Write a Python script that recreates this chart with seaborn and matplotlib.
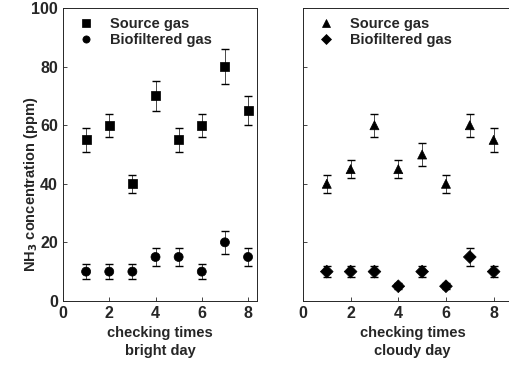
import matplotlib
matplotlib.use("Agg")
import matplotlib.pyplot as plt
import seaborn as sns
import pandas as pd

# checking times
times = [1, 2, 3, 4, 5, 6, 7, 8]

# bright day
bright_source = [55, 60, 40, 70, 55, 60, 80, 65]
bright_source_err = [4, 4, 3, 5, 4, 4, 6, 5]
bright_bio = [10, 10, 10, 15, 15, 10, 20, 15]
bright_bio_err = [2.5, 2.5, 2.5, 3, 3, 2.5, 4, 3]

# cloudy day
cloudy_source = [40, 45, 60, 45, 50, 40, 60, 55]
cloudy_source_err = [3, 3, 4, 3, 4, 3, 4, 4]
cloudy_bio = [10, 10, 10, 5, 10, 5, 15, 10]
cloudy_bio_err = [2, 2, 2, 1, 2, 1, 3, 2]

sns.set_style("ticks")
plt.rcParams['font.family'] = ['Liberation Sans', 'DejaVu Sans']
plt.rcParams['font.weight'] = 'bold'
plt.rcParams['axes.labelweight'] = 'bold'
plt.rcParams['mathtext.default'] = 'bf'

fig = plt.figure(figsize=(5.1, 3.71), dpi=100)
ax1 = fig.add_axes([0.1235, 0.189, 0.381, 0.789])
ax2 = fig.add_axes([0.594, 0.189, 0.43, 0.789])


def draw_panel(ax, src, src_err, bio, bio_err, m_src, m_bio, xlabel):
    df = pd.DataFrame({'t': times * 2,
                       'v': src + bio,
                       'g': ['Source gas'] * 8 + ['Biofiltered gas'] * 8})
    ax.errorbar(times, src, yerr=src_err, fmt='none', ecolor='black',
                elinewidth=0.5, capsize=3, capthick=1, linestyle=':')
    ax.errorbar(times, bio, yerr=bio_err, fmt='none', ecolor='black',
                elinewidth=0.5, capsize=3, capthick=1, linestyle=':')
    sns.scatterplot(data=df, x='t', y='v', hue='g', style='g',
                    markers={'Source gas': m_src, 'Biofiltered gas': m_bio},
                    palette={'Source gas': 'black', 'Biofiltered gas': 'black'},
                    s=42, edgecolor='black', ax=ax, zorder=3)
    ax.set_ylim(0, 100)
    ax.set_xticks([0, 2, 4, 6, 8])
    ax.set_yticks([0, 20, 40, 60, 80, 100])
    ax.tick_params(direction='in', length=3, width=0.6, labelsize=11.5)
    for lab in ax.get_xticklabels() + ax.get_yticklabels():
        lab.set_fontweight('bold')
    for sp in ax.spines.values():
        sp.set_visible(True)
        sp.set_linewidth(0.7)
        sp.set_linestyle((0, (4, 1)))
    ax.set_xlabel(xlabel, fontsize=10.5, fontweight='bold', linespacing=1.3)
    ax.set_ylabel('')
    leg = ax.legend(loc='upper left', frameon=False, fontsize=10.5,
                    handletextpad=0.6, borderaxespad=0.2, labelspacing=0.15,
                    markerscale=0.8)
    for t in leg.get_texts():
        t.set_fontweight('bold')


draw_panel(ax1, bright_source, bright_source_err, bright_bio, bright_bio_err,
           's', 'o', 'checking times\nbright day')
draw_panel(ax2, cloudy_source, cloudy_source_err, cloudy_bio, cloudy_bio_err,
           '^', 'D', 'checking times\ncloudy day')

ax1.set_xlim(0, 8.4)
ax2.set_xlim(0, 9.2)
ax2.tick_params(labelleft=False)
ax1.set_ylabel('NH$_3$ concentration (ppm)', fontsize=10.5, fontweight='bold')
ax1.yaxis.set_label_coords(-0.12, 0.4)

fig.savefig('out.png', dpi=100)
